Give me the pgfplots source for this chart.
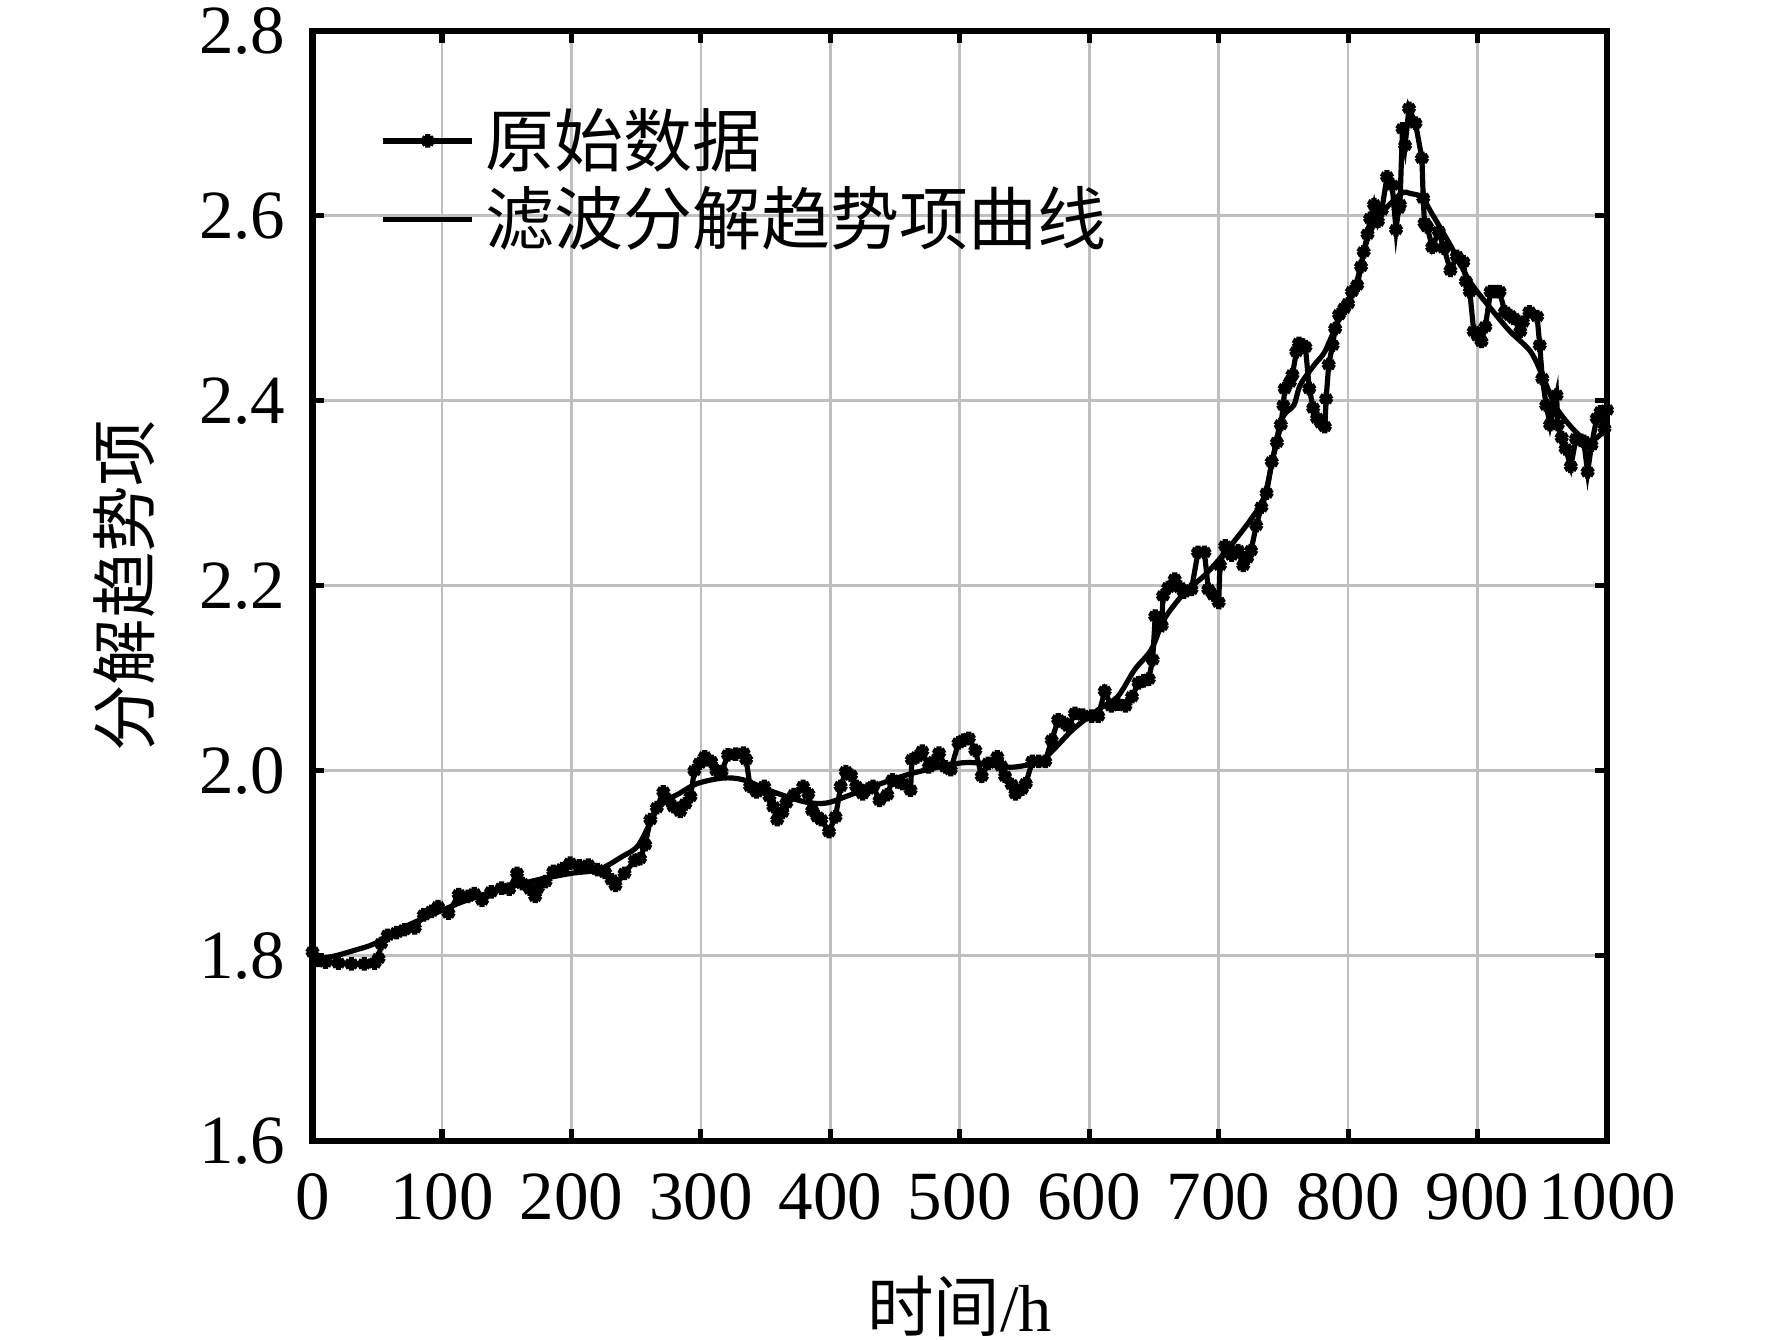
\documentclass[border=0pt]{standalone}
\usepackage{fontspec}
\setmainfont{Liberation Serif}
\newfontfamily\cjk{Noto Sans CJK SC}
\usepackage{pgfplots}
\pgfplotsset{compat=1.18}
\newcommand\fs{\fontsize{13.3pt}{16pt}\selectfont}
\newcommand\fl{\fontsize{12.8pt}{15pt}\selectfont}
\begin{document}
\begin{tikzpicture}
\path[use as bounding box] (-2.116,-1.349) rectangle (9.882,7.723);
\begin{axis}[
  at={(0,0)}, anchor=south west,
  scale only axis, width=8.765cm, height=7.515cm,
  xmin=0, xmax=1000, ymin=1.6, ymax=2.8,
  xtick={0,100,...,1000}, ytick={1.6,1.8,...,2.81},
  /pgf/number format/assume math mode=true,
  /pgf/number format/set thousands separator={},
  yticklabel style={/pgf/number format/fixed, /pgf/number format/fixed zerofill, /pgf/number format/precision=1, xshift=-0.06cm},
  xticklabel style={yshift=-0.1cm},
  scaled y ticks=false,
  tick label style={font=\fs},
  tick align=inside, major tick length=0.08cm,
  tick style={line width=1pt, black},
  axis line style={line width=1.2pt},
  grid=major, major grid style={line width=0.5pt, color=black!25},
  xlabel={{\cjk 时间}/h}, ylabel={\cjk 分解趋势项},
  every axis x label/.style={at={(axis description cs:0.5,-0.1496)}, anchor=center, font=\fl},
  every axis y label/.style={at={(axis description cs:-0.145,0.5)}, anchor=center, rotate=90, font=\fl},
  legend style={draw=none, fill=none, at={(0.04,0.95)}, anchor=north west, font=\fs, row sep=-1.5pt},
  legend cell align=left,
]
\addplot[black, line width=1pt, mark=asterisk, mark size=1.3pt, mark options={line width=1pt}] coordinates {
(0,1.804)(4,1.795)(10,1.793)(20,1.792)(30,1.791)(40,1.791)(48,1.792)(51,1.797)(53,1.813)(58,1.822)
(65,1.825)(71,1.828)(79,1.830)(86,1.844)(92,1.848)(97,1.853)(105,1.846)(113,1.866)(120,1.864)(125,1.867)
(131,1.860)(138,1.869)(146,1.873)(152,1.872)(158,1.889)(162,1.878)(168,1.872)(172,1.864)(174,1.873)(180,1.880)
(186,1.891)(193,1.894)(199,1.900)(206,1.897)(213,1.898)(220,1.893)(226,1.890)(231,1.882)(234,1.876)(241,1.889)
(249,1.903)(253,1.905)(257,1.920)(261,1.947)(266,1.960)(271,1.977)(275,1.968)(279,1.961)(284,1.956)(288,1.964)
(292,1.972)(295,2.000)(299,2.008)(303,2.015)(308,2.010)(312,2.000)(316,1.999)(321,2.017)(327,2.018)(333,2.019)
(335,2.012)(338,1.983)(343,1.977)(349,1.983)(353,1.972)(356,1.961)(359,1.947)(363,1.955)(366,1.965)(372,1.974)
(379,1.983)(383,1.975)(386,1.957)(390,1.950)(393,1.947)(399,1.934)(404,1.950)(408,1.983)(412,1.999)(416,1.995)
(420,1.983)(425,1.975)(429,1.980)(433,1.983)(438,1.968)(444,1.974)(448,1.990)(452,1.988)(456,1.986)(462,1.979)
(463,2.012)(467,2.015)(471,2.021)(476,2.004)(480,2.010)(484,2.019)(489,2.004)(493,2.001)(499,2.030)(503,2.033)
(507,2.035)(512,2.022)(517,1.994)(522,2.008)(529,2.015)(532,2.005)(535,1.994)(540,1.985)(543,1.975)(548,1.980)
(551,1.986)(556,2.010)(561,2.010)(566,2.010)(571,2.033)(576,2.055)(580,2.052)(584,2.048)(589,2.062)(595,2.060)
(602,2.059)(607,2.059)(612,2.086)(617,2.070)(622,2.072)(628,2.070)(633,2.080)(638,2.095)(642,2.097)(646,2.099)
(649,2.120)(651,2.167)(656,2.157)(657,2.189)(661,2.198)(666,2.207)(670,2.198)(673,2.193)(679,2.196)(684,2.236)
(689,2.236)(692,2.196)(696,2.190)(700,2.182)(701,2.222)(705,2.243)(710,2.233)(715,2.238)(719,2.222)(722,2.230)
(725,2.238)(729,2.265)(733,2.285)(737,2.300)(741,2.334)(745,2.355)(748,2.374)(750,2.395)(751,2.413)(755,2.420)
(757,2.428)(760,2.453)(762,2.462)(765,2.460)(767,2.458)(770,2.413)(773,2.392)(776,2.381)(779,2.376)(782,2.372)
(783,2.402)(785,2.439)(788,2.460)(790,2.478)(793,2.493)(797,2.500)(800,2.505)(803,2.518)(807,2.525)(810,2.545)
(812,2.561)(815,2.580)(817,2.597)(820,2.612)(823,2.594)(826,2.606)(830,2.642)(834,2.633)(837,2.585)(839,2.608)
(840,2.612)(842,2.694)(844,2.676)(847,2.716)(852,2.700)(857,2.662)(858,2.619)(859,2.592)(861,2.588)(865,2.566)
(870,2.583)(874,2.565)(879,2.541)(884,2.556)(889,2.550)(891,2.529)(894,2.518)(897,2.475)(900,2.470)(903,2.464)
(906,2.480)(910,2.518)(914,2.518)(917,2.518)(921,2.496)(925,2.492)(928,2.489)(933,2.475)(935,2.485)(940,2.496)
(946,2.491)(948,2.460)(950,2.424)(953,2.395)(956,2.374)(961,2.406)(962,2.374)(965,2.360)(968,2.348)(972,2.329)
(976,2.359)(980,2.357)(982,2.356)(985,2.323)(988,2.352)(992,2.381)(995,2.388)(998,2.370)(1000,2.390)
};
\addlegendentry{\cjk 原始数据}
\addplot[black, line width=1pt, smooth] coordinates {
(0,1.797)(15,1.799)(33,1.806)(48,1.813)(71,1.831)(100,1.849)(123,1.862)(149,1.873)(174,1.882)(200,1.889)
(221,1.893)(239,1.907)(252,1.920)(268,1.962)(283,1.975)(297,1.986)(317,1.992)(333,1.990)(356,1.977)(381,1.966)
(397,1.965)(412,1.972)(433,1.983)(463,1.997)(499,2.008)(517,2.008)(530,2.005)(543,2.004)(564,2.012)(587,2.044)
(607,2.066)(622,2.080)(635,2.109)(648,2.131)(658,2.164)(674,2.193)(689,2.211)(705,2.236)(725,2.272)(736,2.300)
(748,2.377)(758,2.395)(763,2.417)(774,2.439)(782,2.453)(792,2.485)(805,2.521)(815,2.575)(825,2.601)(841,2.624)
(848,2.624)(857,2.620)(864,2.604)(879,2.568)(894,2.529)(910,2.500)(925,2.475)(941,2.453)(951,2.424)(961,2.392)
(976,2.366)(987,2.356)(997,2.366)(1000,2.370)
};
\addlegendentry{\cjk 滤波分解趋势项曲线}
\end{axis}
\end{tikzpicture}
\end{document}
